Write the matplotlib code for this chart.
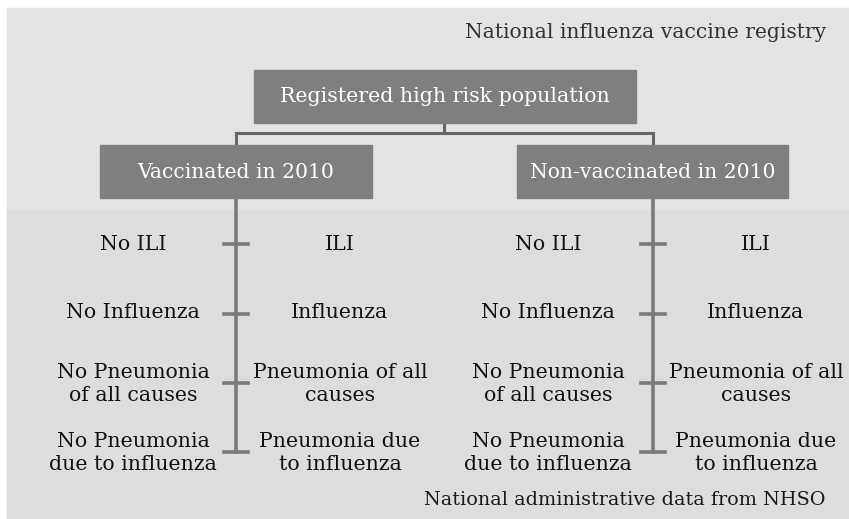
import matplotlib
matplotlib.use("Agg")
import matplotlib.pyplot as plt
from matplotlib.patches import Rectangle

W, H = 849, 519
title_top = "National influenza vaccine registry"
title_bottom = "National administrative data from NHSO"
root_label = "Registered high risk population"
group_labels = ["Vaccinated in 2010", "Non-vaccinated in 2010"]
left_labels = ["No ILI", "No Influenza", "No Pneumonia\nof all causes", "No Pneumonia\ndue to influenza"]
right_labels = ["ILI", "Influenza", "Pneumonia of all\ncauses", "Pneumonia due\nto influenza"]

BOX = "#7f7f7f"
LINE = "#7a7a7a"
FONT = "DejaVu Serif"

fig = plt.figure(figsize=(W / 100, H / 100), dpi=100)
ax = fig.add_axes([0, 0, 1, 1])
ax.set_xlim(0, W)
ax.set_ylim(H, 0)
ax.axis("off")

# background
ax.add_patch(Rectangle((7, 8), W - 7, 204, color="#e3e3e3", zorder=0))
ax.add_patch(Rectangle((7, 210), W - 7, H - 210, color="#dddddd", zorder=0))

ax.text(826, 32, title_top, ha="right", va="center", fontsize=14.6, family=FONT, color="#333333")
ax.text(826, 500, title_bottom, ha="right", va="center", fontsize=13.8, family=FONT, color="#1a1a1a")

# root box
ax.add_patch(Rectangle((254, 70), 382, 53, color=BOX, zorder=2))
ax.text(445, 97, root_label, ha="center", va="center", fontsize=14.8, family=FONT, color="white", zorder=3)

# connectors
ax.plot([444, 444], [123, 133], color="#666666", lw=2.2, zorder=1)
ax.plot([236, 653], [133, 133], color="#666666", lw=2.2, zorder=1)
ax.plot([236, 236], [133, 146], color="#666666", lw=2.2, zorder=1)
ax.plot([653, 653], [133, 146], color="#666666", lw=2.2, zorder=1)

group_boxes = [(100, 372), (517, 788)]
stems = [236, 653]
row_y = [244, 314, 383, 452]
text_y = [244, 312, 384, 453]
col_x = [(133, 340), (548, 756)]

for (x0, x1), lab, sx, (lx, rx) in zip(group_boxes, group_labels, stems, col_x):
    ax.add_patch(Rectangle((x0, 145), x1 - x0, 53, color=BOX, zorder=2))
    ax.text((x0 + x1) / 2, 172, lab, ha="center", va="center", fontsize=14.6, family=FONT, color="white", zorder=3)
    ax.plot([sx, sx], [198, row_y[-1]], color=LINE, lw=2.6, zorder=1)
    for y in row_y:
        ax.plot([sx - 12, sx + 12], [y, y], color=LINE, lw=2.6, zorder=1)
    for ll, rl, y in zip(left_labels, right_labels, text_y):
        ax.text(lx, y, ll, ha="center", va="center", fontsize=14.8, family=FONT,
                color="#111111", linespacing=1.25)
        ax.text(rx, y, rl, ha="center", va="center", fontsize=14.8, family=FONT,
                color="#111111", linespacing=1.25)

fig.savefig("out.png", dpi=100, facecolor="white")
